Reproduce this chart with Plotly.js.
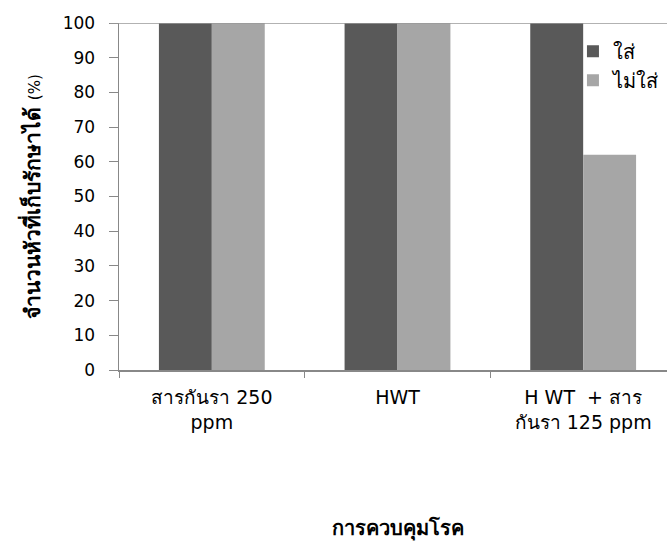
<!DOCTYPE html>
<html>
<head>
<meta charset="utf-8">
<script src="https://cdn.plot.ly/plotly-3.0.1.min.js"></script>
<style>
html,body{margin:0;padding:0;overflow:hidden;background:#fff;width:667px;height:542px;}
#chart{width:690px;height:542px;}
</style>
</head>
<body>
<div id="chart"></div>
<script>
// Data
const categories = ["สารกันรา 250<br>ppm", "HWT", "H WT  + สาร<br>กันรา 125 ppm"];
const seriesNames = ["ใส่", "ไม่ใส่"];
const valuesWith = [100, 100, 100];
const valuesWithout = [100, 100, 62];
const yTickVals = [0, 10, 20, 30, 40, 50, 60, 70, 80, 90, 100];

const FONT = "DejaVu Sans, Tahoma, sans-serif";

const traces = [
  {type: "bar", name: seriesNames[0], x: categories, y: valuesWith,
   marker: {color: "#595959", line: {width: 0}}},
  {type: "bar", name: seriesNames[1], x: categories, y: valuesWithout,
   marker: {color: "#a6a6a6", line: {width: 0}}}
];

const layout = {
  width: 690, height: 542,
  margin: {l: 119, r: 14, t: 23, b: 172},
  paper_bgcolor: "#ffffff", plot_bgcolor: "#ffffff",
  font: {family: FONT, size: 17, color: "#000"},
  barmode: "group", bargap: 0.43, bargroupgap: 0,
  showlegend: true,
  legend: {x: 0.815, xanchor: "left", y: 0.975, yanchor: "top",
           bgcolor: "rgba(255,255,255,0)", borderwidth: 0, font: {family: FONT, size: 20},
           itemwidth: 30, tracegroupgap: 0},
  xaxis: {type: "category", tickson: "boundaries", ticks: "outside", ticklen: 6,
          tickcolor: "#888", linecolor: "#888", linewidth: 1.5, showline: true,
          showgrid: false, zeroline: false, ticklabelstandoff: 10,
          tickfont: {family: FONT, size: 19},
          title: {text: "<b>การควบคุมโรค</b>", font: {family: FONT, size: 20}, standoff: 89}},
  yaxis: {range: [0, 100], tickvals: yTickVals, ticks: "outside", ticklen: 9,
          tickcolor: "#888", linecolor: "#888", linewidth: 1.5, showline: true,
          showgrid: false, zeroline: false, ticklabelstandoff: 10,
          tickfont: {family: FONT, size: 17},
          title: {text: "<b>จำนวนหัวที่เก็บรักษาได้</b> <span style='font-size:15px'>(%)</span>",
                  font: {family: FONT, size: 21}, standoff: 16}},
  shapes: [
    {type: "line", xref: "paper", yref: "y", x0: -0.016, x1: 1, y0: 100, y1: 100,
     line: {color: "#999", width: 1.5}}
  ]
};

Plotly.newPlot("chart", traces, layout, {displayModeBar: false, staticPlot: true});
</script>
</body>
</html>
